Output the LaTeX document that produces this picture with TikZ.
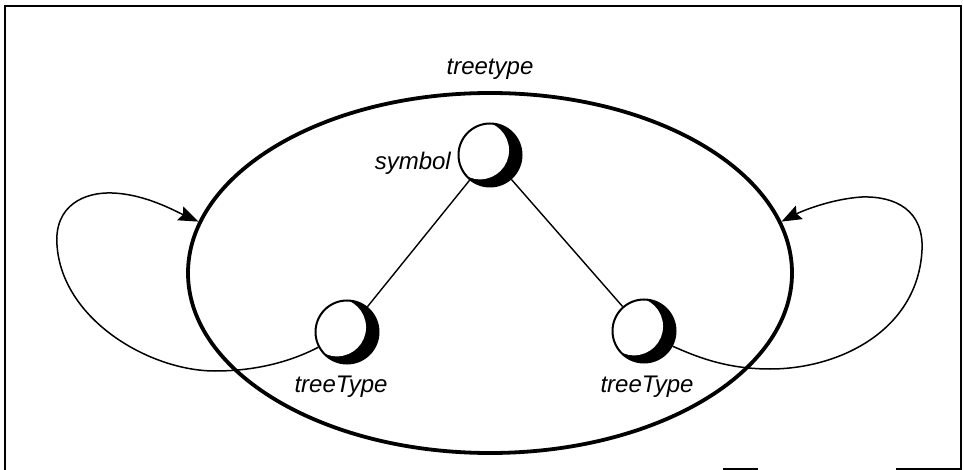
\documentclass[tikz,border=0pt]{standalone}
\usepackage{fontspec}
\setmainfont{Liberation Sans}
\usetikzlibrary{shapes.geometric,arrows.meta}
\tikzset{
  sphere/.style={circle, draw, line width=2pt, minimum size=63pt, inner sep=0pt, fill=white,
    path picture={
      \fill[black] (path picture bounding box.center) circle (32pt);
      \fill[white] ([shift={(155:11pt)}]path picture bounding box.center) circle (29pt);
    }},
  outerell/.style={ellipse, draw, line width=3.8pt, minimum width=604pt, minimum height=360pt, inner sep=0pt},
  lbl/.style={font=\fontsize{24}{28}\selectfont\itshape, inner sep=0pt, anchor=base},
  edge/.style={line width=1.4pt},
  loopline/.style={line width=1.5pt, -{Stealth[length=20pt,width=15pt,inset=3pt]}},
  frame/.style={line width=1.6pt}
}
\begin{document}
\begin{tikzpicture}[x=1pt,y=-1pt]
\useasboundingbox (0,0) rectangle (964,470);
% frame
\draw[frame] (5,470) -- (5,6) -- (961,6) -- (961,470);
\draw[frame] (723,469) -- (758,469);
\draw[frame] (896,469) -- (961,469);
% outer ellipse
\node[outerell] (outer) at (490,273) {};
\node[lbl] (title) at (490,75) {treetype};
% spheres
\node[sphere] (sym) at (490,155) {};
\node[sphere] (l) at (347,332) {};
\node[sphere] (r) at (644,331) {};
% labels
\node[lbl, anchor=base east] (symlbl) at (451,170) {symbol};
\node[lbl] (llbl) at (341,392) {treeType};
\node[lbl] (rlbl) at (647,392) {treeType};
% tree edges
\draw[edge] (sym) -- (l);
\draw[edge] (sym) -- (r);
% loops
\draw[loopline] (l.208) .. controls (290,362) and (255,371) .. (215,371)
  .. controls (150,371) and (62,320) .. (57,245)
  .. controls (54,205) and (85,192) .. (112,193)
  .. controls (145,194) and (175,211) .. (outer.170);
\draw[loopline] (r.332) .. controls (695,356) and (725,369) .. (770,369)
  .. controls (840,369) and (918,330) .. (922,250)
  .. controls (924,210) and (895,196) .. (862,197)
  .. controls (830,199) and (800,212) .. (outer.10);
\end{tikzpicture}
\end{document}
